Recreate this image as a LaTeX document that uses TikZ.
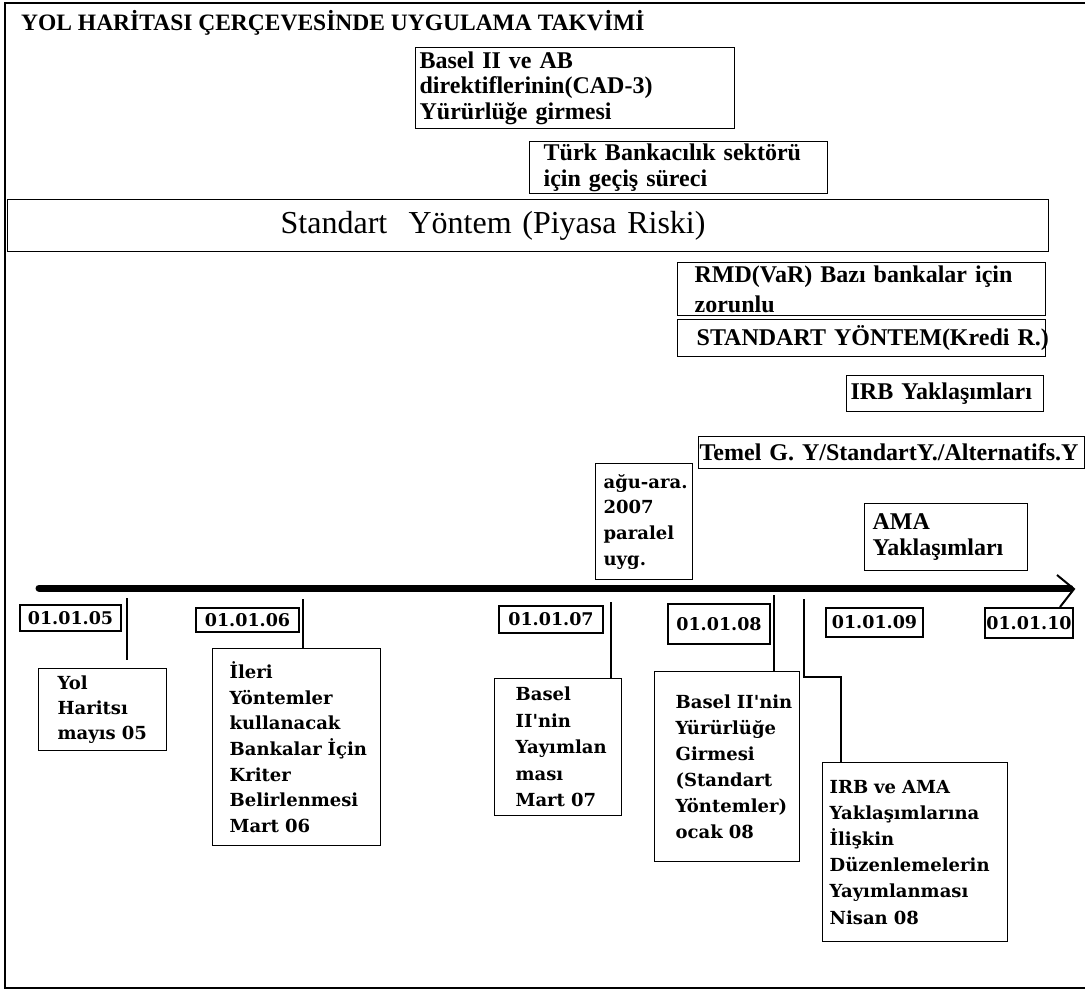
\documentclass[tikz,border=0pt]{standalone}
\usepackage{fontspec}
\setmainfont{Liberation Serif}
\newfontfamily\dejavuserif{DejaVu Serif}
\newcommand\topfnt{\fontsize{24}{25.5}\selectfont\bfseries}
\newcommand\botfnt{\dejavuserif\bfseries\fontsize{18}{25.7}\selectfont}
\newcommand\datefnt{\dejavuserif\bfseries\fontsize{17.5}{20}\selectfont}
\tikzset{
  box/.style={draw, line width=1.3pt, rectangle, anchor=north west, inner xsep=0pt, inner ysep=1pt, align=left},
  datebox/.style={draw, line width=1.3pt, rectangle, inner sep=0pt, font=\datefnt},
  conn/.style={line width=1.2pt},
}
\begin{document}
\begin{tikzpicture}[x=1pt,y=-1pt]
\useasboundingbox (0,0) rectangle (1085,990);
% outer frame
\draw[line width=1.6pt] (1085,3) -- (5,3) -- (5,988) -- (1085,988);
% title
\node[anchor=base west, inner sep=0pt, font=\fontsize{23.5}{25}\selectfont\bfseries] (title) at (21,31) {YOL HARİTASI ÇERÇEVESİNDE UYGULAMA TAKVİMİ};
% upper boxes
\node[box, font=\topfnt, text width=319pt, minimum height=81pt] (basel) at (415,47)
  {\leftskip=4pt Basel II ve AB\\direktiflerinin(CAD-3)\\Yürürlüğe girmesi\par};
\node[box, font=\fontsize{24}{26}\selectfont\bfseries, text width=298pt, minimum height=52pt] (turk) at (529,141)
  {\leftskip=14pt Türk Bankacılık sektörü\\için geçiş süreci\par};
\node[box, font=\fontsize{32}{34}\selectfont, text width=1041pt, minimum height=52pt] (std) at (7,199)
  {\leftskip=273pt Standart\ \ Yöntem (Piyasa Riski)\par};
\node[box, font=\fontsize{24}{30}\selectfont\bfseries, text width=368pt, minimum height=53pt] (rmd) at (677,262)
  {\leftskip=17pt RMD(VaR) Bazı bankalar için\\zorunlu\par};
\node[box, font=\topfnt, text width=368pt, minimum height=37pt] (kredi) at (677,319)
  {\leftskip=19pt \mbox{STANDART YÖNTEM(Kredi R.)}\par};
\node[box, font=\topfnt, text width=197pt, minimum height=36pt] (irby) at (846,375)
  {\leftskip=4pt \mbox{IRB Yaklaşımları}\par};
\node[box, font=\topfnt, text width=386pt, minimum height=32pt] (temel) at (698,436)
  {\leftskip=1pt \mbox{Temel G. Y/StandartY./Alternatifs.Y}\par};
\node[box, font=\botfnt, text width=97pt, minimum height=116pt] (agu) at (595,463)
  {\leftskip=8pt \mbox{ağu-ara.}\\2007\\paralel\\uyg.\par};
\node[box, font=\fontsize{24}{26}\selectfont\bfseries, text width=163pt, minimum height=67pt] (ama) at (864,503)
  {\leftskip=8pt AMA\\Yaklaşımları\par};
% timeline arrow
\coordinate (arrS) at (39,588);
\coordinate (arrE) at (1070,588);
\draw[line width=7pt, line cap=round] (arrS) -- (arrE);
\coordinate (chA) at (1057,575);
\coordinate (chT) at (1074,589);
\coordinate (chB) at (1060,607);
\draw[line width=2pt] (chA) -- (chT) -- (chB);
% date labels
\node[datebox, minimum width=101pt, minimum height=26pt] (d05) at (70.5,618) {01.01.05};
\node[datebox, minimum width=103pt, minimum height=24pt] (d06) at (247.5,620) {01.01.06};
\node[datebox, minimum width=104pt, minimum height=27pt] (d07) at (551,619.5) {01.01.07};
\node[datebox, minimum width=102pt, minimum height=40pt] (d08) at (719,624) {01.01.08};
\node[datebox, minimum width=97pt, minimum height=29pt] (d09) at (874.5,622.5) {01.01.09};
\node[datebox, minimum width=88pt, minimum height=30pt] (d10) at (1029,623) {01.01.10};
% lower boxes
\node[box, font=\fontsize{18}{25}\selectfont\dejavuserif\bfseries, text width=128pt, minimum height=82pt] (yol) at (38,668)
  {\leftskip=19pt Yol\\Haritsı\\\mbox{mayıs 05}\par};
\node[box, font=\botfnt, text width=168pt, minimum height=197pt] (ileri) at (212,648)
  {\leftskip=17pt İleri\\Yöntemler\\kullanacak\\\mbox{Bankalar İçin}\\Kriter\\Belirlenmesi\\\mbox{Mart 06}\par};
\node[box, font=\dejavuserif\bfseries\fontsize{18}{26.5}\selectfont, text width=127pt, minimum height=137pt] (b7) at (494,678)
  {\leftskip=21pt Basel\\II'nin\\Yayımlan\\ması\\\mbox{Mart 07}\par};
\node[box, font=\dejavuserif\bfseries\fontsize{18}{26}\selectfont, text width=145pt, minimum height=190pt] (b8) at (654,671)
  {\leftskip=21pt \mbox{Basel II'nin}\\Yürürlüğe\\Girmesi\\(Standart\\Yöntemler)\\\mbox{ocak 08}\par};
\node[box, font=\dejavuserif\bfseries\fontsize{18}{26.2}\selectfont, text width=185pt, minimum height=179pt] (irb) at (822,762)
  {\leftskip=7pt \mbox{IRB ve AMA}\\Yaklaşımlarına\\İlişkin\\Düzenlemelerin\\Yayımlanması\\\mbox{Nisan 08}\par\vspace{20pt}};
% connectors
\coordinate (t05) at (127,598);
\coordinate (e05) at (127,660);
\draw[conn] (t05) -- (e05);
\coordinate (t06) at (303,599);
\draw[conn] (t06) -- (t06 |- ileri.north);
\coordinate (t07) at (611,602);
\draw[conn] (t07) -- (t07 |- b7.north);
\coordinate (t08) at (774,595);
\draw[conn] (t08) -- (t08 |- b8.north);
\coordinate (t09) at (804,599);
\coordinate (k09) at (841,677);
\draw[conn] (t09) |- (k09) -- (k09 |- irb.north);
\end{tikzpicture}
\end{document}
